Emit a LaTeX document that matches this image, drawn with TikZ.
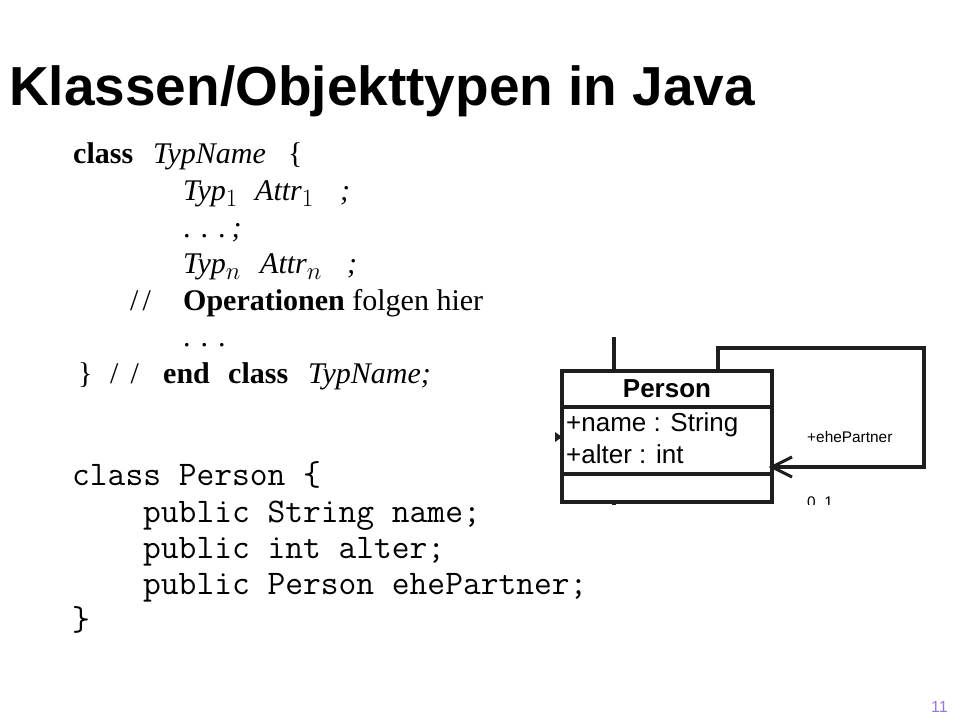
\documentclass[tikz,border=0pt]{standalone}
\usepackage[no-math]{fontspec}
\setmainfont{Liberation Serif}
\setsansfont{Liberation Sans}
\definecolor{pagenum}{RGB}{153,119,221}
\definecolor{umlgray}{RGB}{30,30,30}
\newcommand{\mysub}[1]{\raisebox{-6pt}{\fontsize{25}{26}\selectfont$#1$}}
\begin{document}
\begin{tikzpicture}[x=1pt,y=-1pt,
  titletext/.style={anchor=base west,inner sep=0pt,font={\fontsize{55}{60}\selectfont\sffamily\bfseries}},
  code/.style={anchor=base west,inner sep=0pt,font={\fontsize{30}{36}\selectfont}},
  mono/.style={anchor=base west,inner sep=0pt,font={\fontsize{34.5}{38}\selectfont\ttfamily}},
  umlname/.style={anchor=base,inner sep=0pt,font={\fontsize{26}{30}\selectfont\sffamily\bfseries}},
  umlattr/.style={anchor=base west,inner sep=0pt,font={\fontsize{26}{30}\selectfont\sffamily}},
  umlsmall/.style={anchor=base west,inner sep=0pt,font={\fontsize{15.4}{18}\selectfont\sffamily}},
  umlstroke/.style={line width=4pt,draw=umlgray},
]
\useasboundingbox (0,0) rectangle (960,720);
\fill[white] (0,0) rectangle (960,720);

% title
\node[titletext] (title) at (9,105) {Klassen/Objekttypen in Java};

% generic class scheme
\node[code] (c1a) at (73,163) {\textbf{class}};
\node[code] (c1b) at (153,163) {\textit{TypName}};
\node[code] (c1c) at (288,163) {\{};
\node[code] (c2a) at (183,200) {\textit{Typ}\mysub{1}};
\node[code] (c2b) at (255,200) {\textit{Attr}\mysub{1}};
\node[code] (c2c) at (340,200) {\textit{;}};
\node[code] (c3) at (183,237) {.\kern10pt.\kern10pt.\kern6pt\textit{;}};
\node[code] (c4a) at (183,273) {\textit{Typ}\mysub{n}};
\node[code] (c4b) at (260,273) {\textit{Attr}\mysub{n}};
\node[code] (c4c) at (347,273) {\textit{;}};
\node[code] (c5a) at (130,310) {/\kern4pt/};
\node[code] (c5b) at (183,310) {\textbf{Operationen} folgen hier};
\node[code] (c6) at (183,346) {.\kern10pt.\kern10pt.};
\node[code] (c7a) at (78,383) {\}};
\node[code] (c7b) at (110,383) {/\kern12pt/};
\node[code] (c7c) at (163,383) {\textbf{end}};
\node[code] (c7d) at (228,383) {\textbf{class}};
\node[code] (c7e) at (308,383) {\textit{TypName;}};

% Java code
\node[mono] (p1) at (72,485) {class Person \{};
\node[mono] (p2) at (143,522) {public String name;};
\node[mono] (p3) at (143,558) {public int alter;};
\node[mono] (p4) at (143,594) {public Person ehePartner;};
\node[mono] (p5) at (72,630) {\}};

% page number
\node[anchor=base east,inner sep=0pt,font={\fontsize{16}{18}\selectfont\sffamily},text=pagenum] (pg) at (948,712) {11};

% UML excerpt (cropped picture)
\begin{scope}
  \clip (553,337) rectangle (935,504);
  \node[umlstroke,draw,rectangle,minimum width=210pt,minimum height=131pt,inner sep=0pt] (person) at (667,436.5) {};
  \coordinate (s1) at (562,407);
  \coordinate (s2) at (562,474);
  \draw[umlstroke] (s1) -- (s1 -| person.east);
  \draw[umlstroke] (s2) -- (s2 -| person.east);
  \node[umlname] (pname) at (667,397) {Person};
  \node[umlattr] (attr1) at (566,431) {+name : String};
  \node[umlattr] (attr2) at (566,463) {+alter : int};
  % lines leaving the picture
  \coordinate (t1) at (614,330);
  \coordinate (b1) at (614,512);
  \draw[umlstroke] (t1) -- (t1 |- person.north);
  \draw[umlstroke] (person.south -| b1) -- (b1);
  % self association
  \coordinate (a1) at (718,348);
  \coordinate (a2) at (924,348);
  \coordinate (a3) at (924,467);
  \coordinate (tip) at (772,467);
  \coordinate (barb1) at (792,457);
  \coordinate (barb2) at (792,477);
  \draw[umlstroke,line join=miter] (person.north -| a1) -- (a1) -- (a2) -- (a3) -- (tip);
  \draw[umlstroke,line width=3pt] (barb1) -- (tip) -- (barb2);
  \node[umlsmall] (role) at (807,442) {+ehePartner};
  \node[umlsmall] (mult) at (807,507) {0..1};
  % small incoming arrowhead on the left
  \coordinate (lt) at (562,437);
  \fill[umlgray] (555,432) -- (lt) -- (555,442) -- cycle;
\end{scope}
\end{tikzpicture}
\end{document}
